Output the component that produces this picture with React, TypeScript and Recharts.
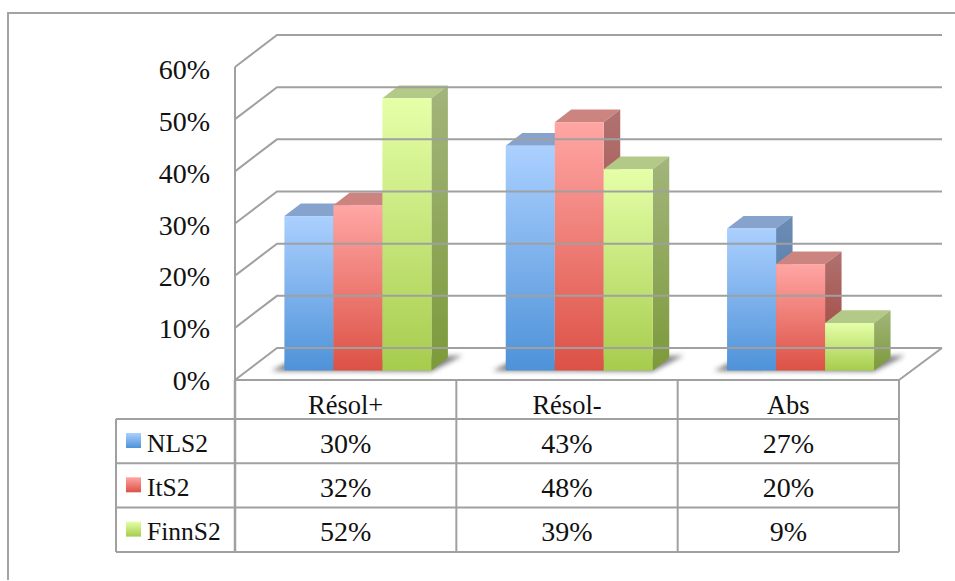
import { Bar, BarChart, XAxis, YAxis } from 'recharts';

const categories = ['Résol+', 'Résol-', 'Abs'];
const nls2 = [29.6, 43.1, 27.2];
const its2 = [31.7, 47.6, 20.4];
const finnS2 = [52.2, 38.6, 9.1];
const yTicks = [0, 10, 20, 30, 40, 50, 60];

const seriesList = [
  { name: 'NLS2', values: nls2, grad: 'blue', top: '#85a3cc', side: 'blueSide', swatch: 'blue' },
  { name: 'ItS2', values: its2, grad: 'red', top: '#cc8481', side: 'redSide', swatch: 'red' },
  { name: 'FinnS2', values: finnS2, grad: 'green', top: '#b3c987', side: 'greenSide', swatch: 'green' },
];

const data = categories.map((c, i) => ({
  category: c,
  NLS2: nls2[i],
  ItS2: its2[i],
  FinnS2: finnS2[i],
}));

const GREY = '#a0a0a0';
const FONT = '"Liberation Serif", serif';
const AXIS_X = 235;
const RIGHT_X = 899;
const AXIS_Y = 380;
const BAND = (RIGHT_X - AXIS_X) / 3;
const ROW_H = 44.3;
const HEAD_H = 39;
const WALL_DX = 42;
const WALL_DY = 32;
const BAR_DX = 12.8;
const BAR_DY = 9.5;
const DEPTH_X = 16.5;
const DEPTH_Y = 12.7;

function WallTick({ y, payload }: any) {
  const v = payload.value;
  return (
    <g>
      <polyline
        points={`${AXIS_X},${y} ${AXIS_X + WALL_DX},${y - WALL_DY} 942,${y - WALL_DY}`}
        fill="none"
        stroke={GREY}
        strokeWidth={2}
      />
      {v === 0 && (
        <line x1={RIGHT_X} y1={y} x2={942} y2={y - WALL_DY} stroke={GREY} strokeWidth={2} />
      )}
      <text x={210} y={y + 10 + v * 0.04} textAnchor="end" fontFamily={FONT} fontSize={28} fill="#111">
        {v}%
      </text>
    </g>
  );
}

function TableTick({ x, index, payload }: any) {
  const right = AXIS_X + BAND * (index + 1);
  return (
    <g>
      <line x1={right} y1={AXIS_Y} x2={right} y2={AXIS_Y + HEAD_H + ROW_H * 3} stroke={GREY} strokeWidth={2} />
      <text x={x} y={AXIS_Y + 34} textAnchor="middle" fontFamily={FONT} fontSize={26.5} fill="#111">
        {payload.value}
      </text>
      {seriesList.map((s, r) => (
        <text
          key={s.name}
          x={x}
          y={AXIS_Y + HEAD_H + ROW_H * r + 33.5}
          textAnchor="middle"
          fontFamily={FONT}
          fontSize={28}
          fill="#111"
        >
          {Math.round(s.values[index])}%
        </text>
      ))}
      {index === 0 && (
        <g>
          <line x1={AXIS_X} y1={AXIS_Y} x2={AXIS_X} y2={AXIS_Y + HEAD_H + ROW_H * 3} stroke={GREY} strokeWidth={2.5} />
          <line x1={116} y1={AXIS_Y + HEAD_H} x2={116} y2={AXIS_Y + HEAD_H + ROW_H * 3} stroke={GREY} strokeWidth={2} />
          {[0, 1, 2, 3].map((r) => (
            <line
              key={r}
              x1={116}
              y1={AXIS_Y + HEAD_H + ROW_H * r}
              x2={RIGHT_X}
              y2={AXIS_Y + HEAD_H + ROW_H * r}
              stroke={GREY}
              strokeWidth={2}
            />
          ))}
          {seriesList.map((s, r) => (
            <g key={s.name}>
              <rect x={126} y={AXIS_Y + HEAD_H + ROW_H * r + 14} width={15} height={15} fill={`url(#${s.swatch})`} />
              <text
                x={147}
                y={AXIS_Y + HEAD_H + ROW_H * r + 32.5}
                fontFamily={FONT}
                fontSize={25.5}
                fill="#111"
              >
                {s.name}
              </text>
            </g>
          ))}
        </g>
      )}
    </g>
  );
}

function bar3d(grad: string, top: string, side: string, withShadow: boolean) {
  return (props: any) => {
    const x = props.x + BAR_DX;
    const y = props.y - BAR_DY;
    const w = props.width;
    const h = props.height;
    const b = y + h;
    return (
      <g>
        {withShadow && (
          <polygon
            points={`${x - 13},${b + 0.5} ${x + 3},${b - 8} ${x + 3 * w + 31},${b - 15} ${x + 3 * w},${b + 1}`}
            fill="#4a4a4a"
            opacity={0.7}
            filter="url(#soft)"
          />
        )}
        <polygon
          points={`${x},${y} ${x + DEPTH_X},${y - DEPTH_Y} ${x + w + DEPTH_X},${y - DEPTH_Y} ${x + w},${y}`}
          fill={top}
        />
        <polygon
          points={`${x + w},${y} ${x + w + DEPTH_X},${y - DEPTH_Y} ${x + w + DEPTH_X},${b - DEPTH_Y} ${x + w},${b}`}
          fill={`url(#${side})`}
        />
        <rect x={x} y={y} width={w} height={h} fill={`url(#${grad})`} />
      </g>
    );
  };
}

function Grad({ id, from, to }: { id: string; from: string; to: string }) {
  return (
    <linearGradient id={id} x1="0" y1="0" x2="0" y2="1">
      <stop offset="0%" stopColor={from} />
      <stop offset="100%" stopColor={to} />
    </linearGradient>
  );
}

export default function App() {
  return (
    <div
      style={{
        position: 'fixed',
        left: 0,
        top: 0,
        width: 955,
        height: 581,
        background: '#fff',
        overflow: 'hidden',
      }}
    >
      <div
        style={{
          position: 'absolute',
          left: 7,
          top: 12,
          width: 960,
          height: 566,
          borderLeft: '2px solid #a3a3a3',
          borderTop: '2px solid #a3a3a3',
        }}
      />
      <div style={{ position: 'absolute', left: 0, top: 0 }}>
        <BarChart
          width={955}
          height={581}
          data={data}
          margin={{ top: 67, right: 56, bottom: 0, left: 0 }}
          barCategoryGap={36.6}
          barGap={0}
        >
          <defs>
            <Grad id="blue" from="#abd0ff" to="#4e92d8" />
            <Grad id="red" from="#ffa6a4" to="#dc5145" />
            <Grad id="green" from="#e5ffa8" to="#a6cc4d" />
            <Grad id="blueSide" from="#6d8cb4" to="#3f74ab" />
            <Grad id="redSide" from="#b07270" to="#a03f37" />
            <Grad id="greenSide" from="#a3b57c" to="#7c9a3a" />
            <filter id="soft" x="-20%" y="-100%" width="140%" height="300%">
              <feGaussianBlur stdDeviation="2.5" />
            </filter>
          </defs>
          <YAxis
            domain={[0, 60]}
            ticks={yTicks}
            width={235}
            interval={0}
            tickLine={false}
            axisLine={{ stroke: GREY, strokeWidth: 2 }}
            tick={WallTick}
          />
          <XAxis
            dataKey="category"
            height={201}
            interval={0}
            tickLine={false}
            tickSize={0}
            tickMargin={0}
            axisLine={{ stroke: GREY, strokeWidth: 2 }}
            tick={TableTick}
          />
          {seriesList.map((s, i) => (
            <Bar
              key={s.name}
              dataKey={s.name}
              isAnimationActive={false}
              shape={bar3d(s.grad, s.top, s.side, i === 0)}
            />
          ))}
        </BarChart>
      </div>
    </div>
  );
}
